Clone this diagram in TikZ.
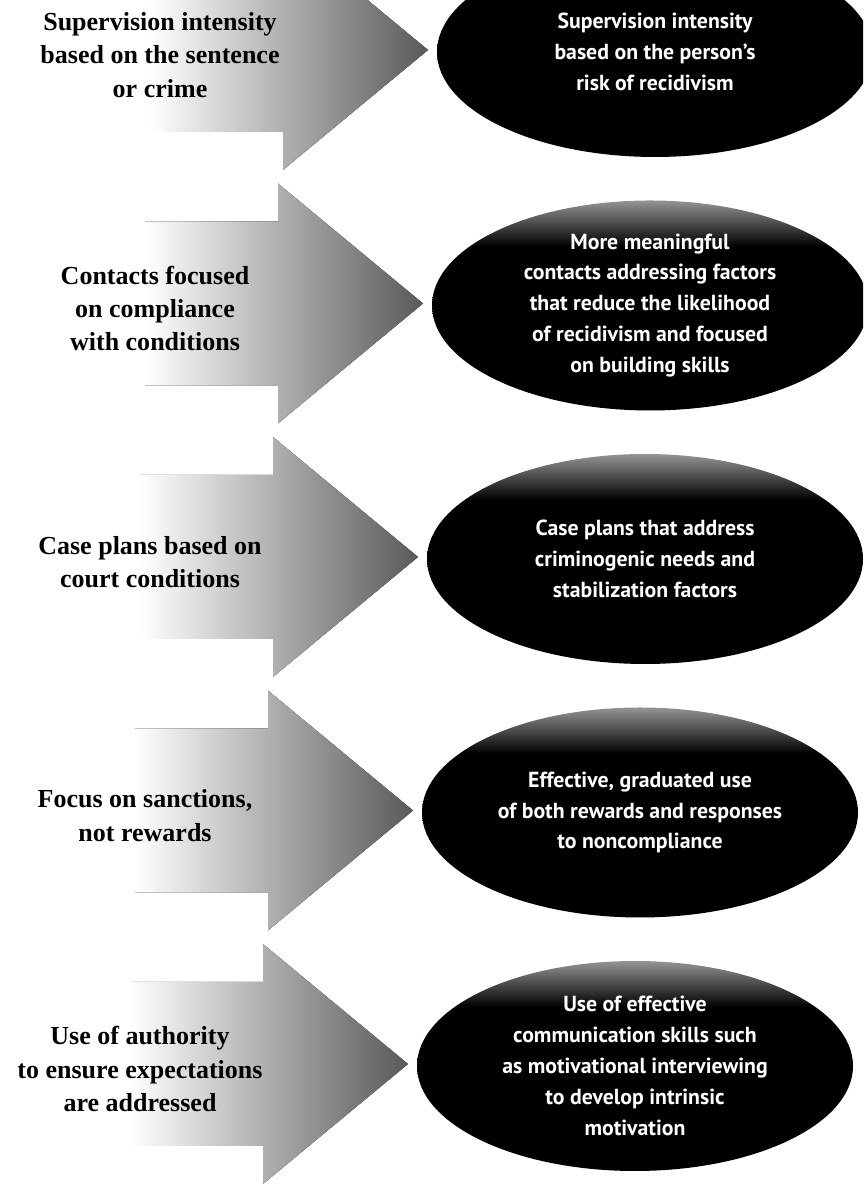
\documentclass[tikz,border=0pt]{standalone}
\usepackage{fontspec}
\setmainfont{Liberation Serif}
\newfontfamily\ovalfont{PT Sans}
\usetikzlibrary{shapes.geometric}

% black oval whose top rim fades to grey
\pgfdeclareverticalshading{ovaltop}{100bp}{%
  color(0bp)=(black); color(64bp)=(black);
  color(75bp)=(black!42); color(100bp)=(black!42)}

\begin{document}
\begin{tikzpicture}[
    x=0.2mm, y=0.2mm,
    oldlbl/.style={font=\bfseries\fontsize{14.8}{19}\selectfont, align=center, inner sep=1pt},
    newlbl/.style={ellipse, shading=ovaltop, text=white, inner sep=0pt,
      minimum width=87.2mm, minimum height=42mm, align=center,
      font=\ovalfont\bfseries\fontsize{12.4}{17.6}\selectfont},
    fadearrow/.style={left color=white, middle color=black!40, right color=black!65}
  ]
  \clip (0,0) rectangle (863,1184);
  \foreach \i/\old/\new in {%
    1/{Supervision intensity\\based on the sentence\\or crime}/{Supervision intensity\\based on the person’s\\risk of recidivism},
    2/{Contacts focused\\on compliance\\with conditions}/{More meaningful\\contacts addressing factors\\that reduce the likelihood\\of recidivism and focused\\on building skills},
    3/{Case plans based on\\court conditions}/{Case plans that address\\criminogenic needs and\\stabilization factors},
    4/{Focus on sanctions,\\not rewards}/{Effective, graduated use\\of both rewards and responses\\to noncompliance},
    5/{Use of authority\\to ensure expectations\\are addressed}/{Use of effective\\communication skills such\\as motivational interviewing\\to develop intrinsic\\motivation}%
  }{
    \pgfmathsetmacro\sx{-5*(\i-1)}
    \pgfmathsetmacro\cy{1134-253.5*(\i-1)}
    \begin{scope}[shift={(\sx,\cy)}]
      % faded arrow: shaft on the left, head pointing at the oval
      \fill[fadearrow] (150,-82) -- (283,-82) -- (283,-120) -- (428,0)
        -- (283,120) -- (283,82) -- (150,82) -- cycle;
      \node[oldlbl] (old\i) at (160,-5) {\old};
      \node[newlbl] (new\i) at (655,-2) {\new};
    \end{scope}
  }
\end{tikzpicture}
\end{document}
